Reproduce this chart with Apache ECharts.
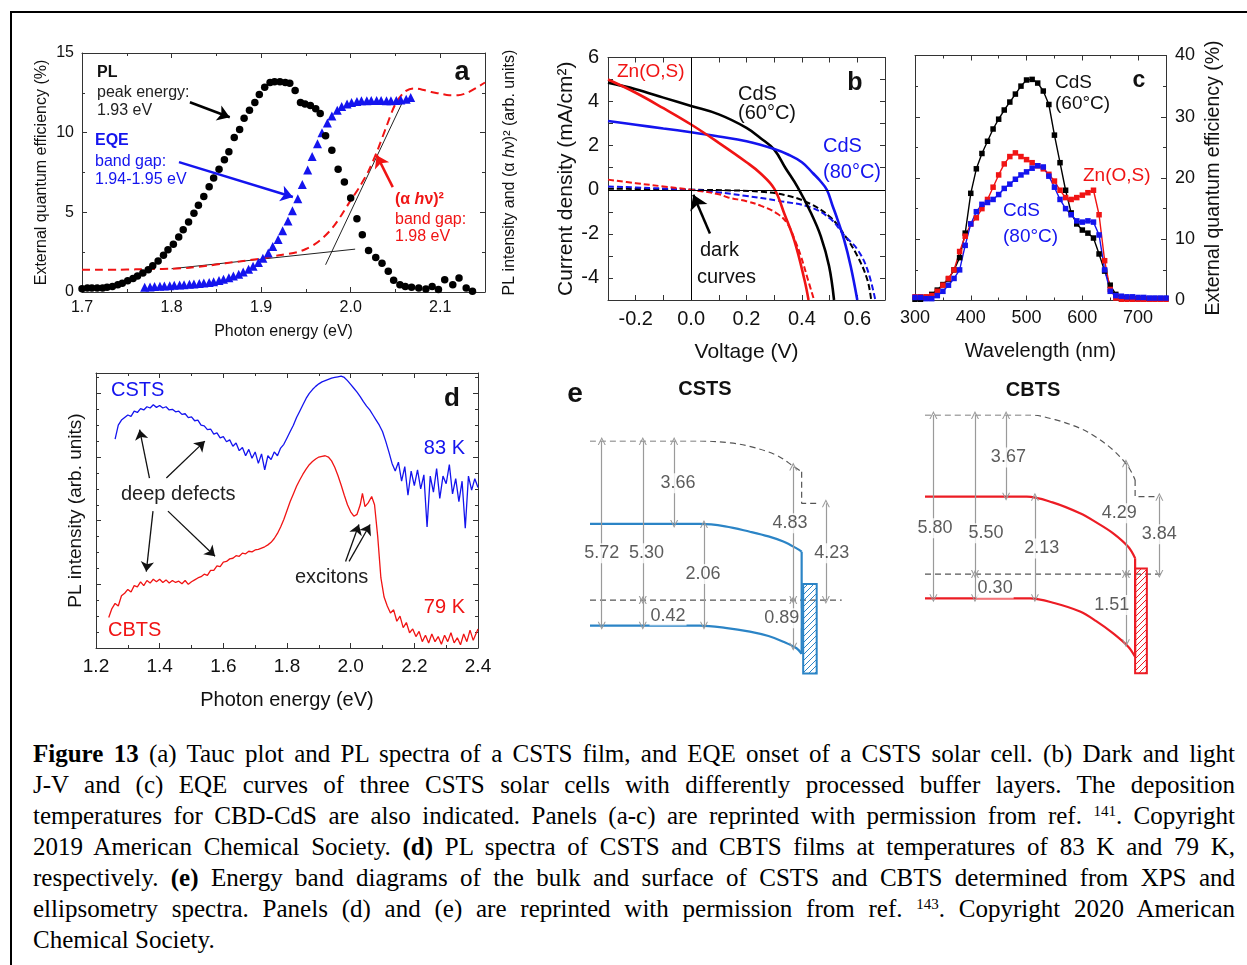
<!DOCTYPE html>
<html>
<head>
<meta charset="utf-8">
<script src="https://cdn.jsdelivr.net/npm/echarts@6/dist/echarts.min.js"></script>
<style>
html, body { margin: 0; padding: 0; background: #fff; overflow: hidden; }
#frame { position: absolute; left: 10px; top: 11px; width: 1400px; height: 1100px; border-left: 2px solid #000; border-top: 2px solid #000; }
#chart { position: absolute; left: 0; top: 0; width: 1247px; height: 725px; }
#caption { position: absolute; left: 33px; top: 738px; width: 1202px; font-family: "Liberation Serif", "Times New Roman", serif; font-size: 25px; line-height: 31px; color: #000; }
#caption div { text-align: justify; text-align-last: justify; white-space: nowrap; }
#caption div.last { text-align-last: left; }
#caption sup { font-size: 15px; line-height: 0; vertical-align: 8px; }
</style>
</head>
<body>
<div id="frame"></div>
<div id="chart"></div>
<div id="caption">
  <div><b>Figure 13</b> (a) Tauc plot and PL spectra of a CSTS film, and EQE onset of a CSTS solar cell. (b) Dark and light</div>
  <div>J-V and (c) EQE curves of three CSTS solar cells with differently processed buffer layers. The deposition</div>
  <div>temperatures for CBD-CdS are also indicated. Panels (a-c) are reprinted with permission from ref. <sup>141</sup>. Copyright</div>
  <div>2019 American Chemical Society. <b>(d)</b> PL spectra of CSTS and CBTS films at temperatures of 83 K and 79 K,</div>
  <div>respectively. <b>(e)</b> Energy band diagrams of the bulk and surface of CSTS and CBTS determined from XPS and</div>
  <div>ellipsometry spectra. Panels (d) and (e) are reprinted with permission from ref. <sup>143</sup>. Copyright 2020 American</div>
  <div class="last">Chemical Society.</div>
</div>
<script>
// ---------------- (a) Tauc / PL / EQE ----------------
const plEnergy = [1.700,1.706,1.711,1.717,1.723,1.728,1.734,1.740,1.745,1.751,1.757,1.762,1.768,1.774,1.779,1.785,1.791,1.796,1.802,1.808,1.813,1.819,1.825,1.830,1.836,1.842,1.847,1.853,1.859,1.864,1.870,1.876,1.881,1.887,1.893,1.898,1.904,1.910,1.915,1.921,1.927,1.932,1.938,1.944,1.949,1.955,1.961,1.966,1.972,1.979,1.986,1.993,2.000,2.007,2.013,2.020,2.028,2.035,2.042,2.048,2.055,2.061,2.068,2.076,2.084,2.091,2.098,2.105,2.114,2.121,2.129,2.136];
const plValue = [0.20,0.25,0.25,0.25,0.25,0.30,0.35,0.45,0.55,0.70,0.85,1.00,1.20,1.40,1.65,1.95,2.30,2.65,3.00,3.45,3.90,4.40,4.95,5.45,6.00,6.60,7.15,7.70,8.30,8.80,9.70,10.20,10.90,11.40,11.90,12.40,12.85,13.15,13.20,13.20,13.15,13.10,12.65,11.90,11.80,11.70,11.50,11.20,9.80,8.90,7.70,6.90,5.90,4.60,3.60,2.60,2.17,1.80,1.30,0.73,0.45,0.35,0.30,0.25,0.19,0.35,0.15,0.77,0.46,0.88,0.25,0.04];
const eqeEnergy = [1.770,1.776,1.781,1.787,1.792,1.798,1.803,1.809,1.814,1.820,1.825,1.831,1.836,1.842,1.847,1.853,1.858,1.864,1.869,1.875,1.880,1.886,1.891,1.897,1.902,1.908,1.913,1.919,1.924,1.930,1.935,1.941,1.946,1.952,1.957,1.963,1.968,1.974,1.979,1.985,1.990,1.996,2.001,2.007,2.012,2.018,2.023,2.029,2.034,2.040,2.045,2.051,2.056,2.062,2.067];
const eqeValue = [0.30,0.32,0.34,0.36,0.38,0.40,0.42,0.44,0.46,0.48,0.50,0.53,0.56,0.60,0.65,0.72,0.80,0.90,1.00,1.12,1.26,1.42,1.62,1.85,2.12,2.45,2.85,3.30,3.85,4.45,5.10,5.85,6.75,7.65,8.50,9.30,10.00,10.60,11.05,11.40,11.65,11.80,11.90,11.95,12.00,12.00,12.02,12.02,12.02,12.00,12.00,12.02,12.05,12.10,12.20];
const taucEnergy = [1.70,1.72,1.74,1.76,1.78,1.80,1.82,1.84,1.86,1.88,1.90,1.92,1.94,1.95,1.96,1.97,1.98,1.99,2.00,2.01,2.02,2.03,2.04,2.05,2.06,2.07,2.08,2.09,2.10,2.11,2.12,2.13,2.14,2.15];
const taucValue = [1.40,1.40,1.40,1.42,1.44,1.46,1.52,1.65,1.80,1.95,2.10,2.30,2.50,2.70,3.00,3.45,4.05,4.85,5.75,6.60,7.60,8.90,10.40,11.80,12.55,12.78,12.70,12.55,12.45,12.35,12.35,12.50,12.80,13.15];
const fitBase = [[1.800, 1.46], [2.005, 2.69]];
const fitEdge = [[1.972, 1.71], [2.058, 11.93]];

// ---------------- (b) J-V ----------------
const cds60Light = [[-0.30,4.86],[-0.20,4.56],[-0.10,4.18],[0.00,3.80],[0.10,3.42],[0.20,2.81],[0.25,2.35],[0.30,1.82],[0.34,1.00],[0.385,0.11],[0.432,-1.03],[0.468,-2.10],[0.498,-3.46],[0.516,-5.00]];
const cds80Light = [[-0.30,3.12],[-0.20,2.95],[-0.10,2.78],[0.00,2.61],[0.10,2.42],[0.20,2.20],[0.30,1.85],[0.35,1.60],[0.40,1.25],[0.44,0.75],[0.465,0.42],[0.49,0.00],[0.51,-0.70],[0.528,-1.33],[0.552,-2.25],[0.576,-3.46],[0.60,-5.00]];
const znosLight = [[-0.30,5.00],[-0.20,4.40],[-0.10,3.70],[0.00,2.96],[0.10,2.13],[0.20,1.25],[0.25,0.75],[0.30,0.05],[0.337,-1.10],[0.373,-2.32],[0.409,-4.07],[0.424,-5.00]];
const znosDark = [[-0.30,0.46],[-0.20,0.30],[-0.10,0.15],[0.00,0.00],[0.10,-0.20],[0.134,-0.35],[0.20,-0.52],[0.253,-0.73],[0.313,-1.10],[0.349,-1.56],[0.375,-2.30],[0.396,-3.00],[0.42,-4.00],[0.444,-5.00]];
const cds60Dark = [[-0.30,0.05],[-0.10,0.02],[0.00,0.00],[0.15,-0.03],[0.253,-0.09],[0.349,-0.27],[0.432,-0.65],[0.504,-1.26],[0.552,-2.02],[0.60,-3.00],[0.636,-4.07],[0.65,-5.00]];
const cds80Dark = [[-0.30,0.15],[-0.15,0.08],[0.00,0.00],[0.10,-0.12],[0.194,-0.27],[0.313,-0.50],[0.432,-0.80],[0.504,-1.33],[0.552,-2.05],[0.60,-2.70],[0.636,-3.60],[0.665,-5.00]];

// ---------------- (c) EQE ----------------
const wavelength = [300,310,320,330,340,350,360,370,380,390,400,410,420,430,440,450,460,470,480,490,500,510,520,530,540,550,560,570,580,590,600,610,620,630,640,650,660,670,680,690,700,710,720,730,740,750];
const eqeCdS60 = [0.2,0.2,0.5,1.0,1.7,2.6,3.5,5.0,7.0,11.0,17.5,21.5,24.0,26.0,28.0,29.6,31.1,32.4,33.7,35.0,36.0,36.1,35.5,34.2,32.0,27.0,22.5,18.0,14.3,12.5,11.5,11.0,10.2,7.6,4.8,2.5,1.0,0.5,0.4,0.3,0.3,0.3,0.3,0.3,0.3,0.3];
const eqeZnOS = [0.6,0.6,0.6,0.8,1.5,2.5,3.6,5.0,8.0,10.5,12.5,13.5,15.0,16.5,18.5,20.5,22.3,23.5,24.1,23.5,23.0,22.5,22.0,21.5,20.6,19.5,18.0,16.8,16.5,16.8,17.2,17.6,18.0,14.0,6.5,1.8,0.4,0.2,0.2,0.2,0.2,0.2,0.2,0.2,0.2,0.2];
const eqeCdS80 = [0.5,0.5,0.3,0.3,0.8,1.5,2.5,3.6,5.0,9.0,12.5,14.5,15.7,16.0,16.5,17.3,18.3,19.0,19.8,20.5,21.0,21.6,22.0,21.8,20.3,18.5,16.5,15.0,14.0,13.0,12.8,13.0,12.8,10.7,5.0,1.5,0.8,0.7,0.6,0.6,0.5,0.5,0.4,0.4,0.4,0.4];

// ---------------- (d) low temperature PL (arb. units) ----------------
const cstsPL = [[1.26,3.28],[1.27,3.50],[1.28,3.58],[1.29,3.62],[1.30,3.66],[1.31,3.64],[1.32,3.72],[1.33,3.70],[1.34,3.76],[1.35,3.74],[1.36,3.79],[1.37,3.77],[1.38,3.82],[1.39,3.78],[1.40,3.81],[1.41,3.77],[1.42,3.79],[1.43,3.74],[1.44,3.75],[1.45,3.71],[1.46,3.72],[1.47,3.67],[1.48,3.68],[1.49,3.62],[1.50,3.63],[1.51,3.57],[1.52,3.58],[1.53,3.50],[1.54,3.49],[1.55,3.43],[1.56,3.44],[1.57,3.36],[1.58,3.38],[1.59,3.30],[1.60,3.32],[1.61,3.24],[1.62,3.27],[1.63,3.17],[1.64,3.22],[1.65,3.10],[1.66,3.15],[1.67,3.02],[1.68,3.12],[1.69,2.98],[1.70,3.08],[1.71,2.90],[1.72,3.05],[1.73,2.80],[1.74,3.02],[1.75,2.96],[1.76,3.08],[1.77,3.02],[1.78,3.14],[1.79,3.20],[1.80,3.30],[1.81,3.40],[1.82,3.50],[1.83,3.62],[1.84,3.72],[1.85,3.82],[1.86,3.92],[1.87,4.00],[1.88,4.06],[1.89,4.11],[1.90,4.15],[1.91,4.18],[1.92,4.20],[1.93,4.22],[1.94,4.24],[1.95,4.25],[1.96,4.26],[1.97,4.27],[1.98,4.25],[1.99,4.20],[2.00,4.14],[2.01,4.08],[2.02,4.02],[2.03,3.95],[2.04,3.87],[2.05,3.80],[2.06,3.74],[2.07,3.66],[2.08,3.58],[2.09,3.50],[2.10,3.40],[2.11,3.25],[2.12,3.08],[2.13,2.90],[2.14,2.78],[2.15,2.92],[2.16,2.62],[2.17,2.85],[2.18,2.40],[2.19,2.78],[2.20,2.55],[2.21,2.80],[2.22,2.50],[2.23,2.72],[2.24,1.90],[2.25,2.70],[2.26,2.45],[2.27,2.82],[2.28,2.35],[2.29,2.70],[2.30,2.58],[2.31,2.88],[2.32,2.42],[2.33,2.66],[2.34,2.30],[2.35,2.62],[2.36,1.88],[2.37,2.70],[2.38,2.48],[2.39,2.66],[2.40,2.52]];
const cbtsPL = [[1.24,0.48],[1.25,0.62],[1.26,0.70],[1.27,0.66],[1.28,0.82],[1.29,0.86],[1.30,0.92],[1.31,0.88],[1.32,0.98],[1.33,0.96],[1.34,1.04],[1.35,0.98],[1.36,1.06],[1.37,1.02],[1.38,1.08],[1.39,1.04],[1.40,1.08],[1.41,1.03],[1.42,1.07],[1.43,1.02],[1.44,1.06],[1.45,1.03],[1.46,1.05],[1.47,1.01],[1.48,1.06],[1.49,1.00],[1.50,1.04],[1.51,1.07],[1.52,1.10],[1.53,1.12],[1.54,1.16],[1.55,1.14],[1.56,1.22],[1.57,1.22],[1.58,1.29],[1.59,1.28],[1.60,1.35],[1.61,1.36],[1.62,1.40],[1.63,1.41],[1.64,1.45],[1.65,1.44],[1.66,1.49],[1.67,1.48],[1.68,1.52],[1.69,1.51],[1.70,1.54],[1.71,1.55],[1.72,1.57],[1.73,1.59],[1.74,1.62],[1.75,1.66],[1.76,1.72],[1.77,1.80],[1.78,1.90],[1.79,2.02],[1.80,2.16],[1.81,2.30],[1.82,2.42],[1.83,2.54],[1.84,2.64],[1.85,2.73],[1.86,2.81],[1.87,2.88],[1.88,2.93],[1.89,2.97],[1.90,3.00],[1.91,3.01],[1.92,3.02],[1.93,3.00],[1.94,2.94],[1.95,2.84],[1.96,2.71],[1.97,2.56],[1.98,2.40],[1.99,2.25],[2.00,2.14],[2.01,2.07],[2.02,2.10],[2.03,2.25],[2.037,2.43],[2.045,2.22],[2.055,2.28],[2.066,2.38],[2.075,2.25],[2.085,1.75],[2.095,1.10],[2.105,0.80],[2.115,0.66],[2.125,0.55],[2.135,0.60],[2.145,0.42],[2.155,0.50],[2.165,0.32],[2.175,0.40],[2.185,0.24],[2.195,0.30],[2.205,0.18],[2.215,0.26],[2.225,0.10],[2.235,0.20],[2.245,0.08],[2.255,0.22],[2.265,0.10],[2.275,0.18],[2.285,0.06],[2.295,0.20],[2.305,0.10],[2.315,0.24],[2.325,0.08],[2.335,0.16],[2.345,0.05],[2.355,0.22],[2.365,0.10],[2.375,0.28],[2.385,0.12],[2.40,0.30]];

// ---------------- (e) band diagrams, schematic units (x: 0-100 depth, y: 0 = vacuum level) ----------------
const cstsVacuum = [[0,0],[43,0],[55,0.8],[63,2.4],[73,6],[80,10.9],[83,13.1]];
const cstsVacuumStep = [[83,13.1],[83,26.5],[90.2,26.5]];
const cstsCB = [[0,35.3],[43,35.3],[53,36.3],[62.7,38.6],[70,40.6],[75.8,42.8],[81,45.7],[83,47.1]];
const cstsVB = [[0,78.6],[43,78.6],[53,79.5],[62.7,81.1],[70,83],[75.8,85.4],[81,88.2],[83,90.6]];
const cstsSurface = [[83,47.1],[83,90.6]];
const cstsFermi = [[0,67.7],[98.7,67.7]];
const cstsLayer = [[83.6,60.9,88.9,98.9]];
const cstsGaps = [[4.6,0,78.6],[20.7,0,67.7],[33,0,35.3],[44.7,35.3,78.6],[20.7,67.7,78.6],[79.7,10.9,67.7],[92.5,26.5,67.7],[79.7,67.7,87.5]];
const cstsGapLabels = [['5.72',4.6,47.8],['5.30',22.2,47.8],['3.66',34.5,18],['2.06',44.3,56.6],['0.42',30.6,74.3],['4.83',78.4,35],['4.23',94.8,47.8],['0.89',75.2,75.4]];

const cbtsVacuum = [[0,0],[41.2,0],[51,1.8],[60.8,5.1],[67,8.5],[73.8,13.5],[79.7,19.9],[82.4,25]];
const cbtsVacuumStep = [[82.4,25],[82.4,31.4],[90.9,31.4]];
const cbtsCB = [[0,31.4],[39.9,31.4],[50,33.6],[60.8,37.8],[67,41.2],[73.8,45.5],[79.7,50.7],[82.4,55.1]];
const cbtsVB = [[0,70.5],[41.2,70.5],[51,72.4],[60.8,75.6],[67,79.2],[73.8,84],[79.7,89.1],[82.4,93]];
const cbtsSurface = [[82.4,55.1],[82.4,93]];
const cbtsFermi = [[0,61.2],[93.5,61.2]];
const cbtsLayer = [[82.4,59,87,99.3]];
const cbtsGaps = [[3.3,0,70.5],[19.6,0,61.2],[31.8,0,31.4],[43.1,31.4,70.5],[19.6,61.2,70.5],[78.8,18.6,61.2],[91.9,31.4,61.2],[78.8,61.2,87.8]];
const cbtsGapLabels = [['5.80',3.9,43.6],['5.50',23.9,45.5],['3.67',32.7,16.3],['2.13',45.8,51.3],['0.30',27.5,66.7],['4.29',76.2,37.8],['3.84',91.9,45.9],['1.51',73.2,73.1]];

// annotation arrows, in data coordinates [tail, head]
const arrowsA = [[[1.8205,11.91],[1.865,10.97]], [[1.8083,8.15],[1.9355,5.96]], [[2.047,6.58],[2.029,8.59]]];
const arrowB = [[0.068,-1.98],[0.008,-0.23]];
const arrowsD = [[[1.368,2.67],[1.337,3.43]], [[1.421,2.67],[1.542,3.25]], [[1.379,2.15],[1.358,1.20]], [[1.426,2.15],[1.574,1.44]], [[1.984,1.36],[2.026,1.94]], [[1.995,1.36],[2.061,1.94]]];

const FONT = '"Liberation Sans", Arial, Helvetica, sans-serif';
const INK = '#111';
const BLUE = '#1414ee';
const RED = '#f01414';
const EBLUE = '#2b84c6';
const ERED = '#ec1c24';
const GREY = '#9a9a9a';

function zip(xs, ys) { return xs.map((x, i) => [x, ys[i]]); }
function stepFmt(step, dec) {
  return function (v) {
    const k = v / step;
    if (Math.abs(k - Math.round(k)) > 1e-6) return '';
    return (Math.round(k) * step).toFixed(dec);
  };
}

let grids = [], xAxes = [], yAxes = [], series = [], graphics = [];

function axisBase(a) {
  return {
    type: 'value', min: a.min, max: a.max, interval: a.interval,
    axisLine: { show: true, onZero: false, lineStyle: { color: '#333', width: 1 } },
    axisTick: { show: true, inside: true, length: 5, lineStyle: { color: '#333', width: 1 } },
    minorTick: { show: !!a.minor, splitNumber: a.minor || 2, length: 3, lineStyle: { color: '#333', width: 1 } },
    splitLine: { show: false }, minorSplitLine: { show: false }
  };
}

// boxed panel: labelled bottom/left (or right) axes plus mirrored tick-only axes
function frame(rect, x, y) {
  const gi = grids.length;
  grids.push(Object.assign({ show: false, outerBoundsMode: 'none', containLabel: false }, rect));
  const ax = { x: xAxes.length, y: yAxes.length };
  ['bottom', 'top'].forEach((pos, k) => {
    xAxes.push(Object.assign(axisBase(x), {
      gridIndex: gi, position: pos,
      axisLabel: { show: k === 0, formatter: x.fmt, fontSize: x.fs, color: INK, fontFamily: FONT, margin: x.margin },
      name: k === 0 ? x.name : '', nameLocation: 'middle', nameGap: x.nameGap,
      nameTextStyle: { fontSize: x.nfs, color: INK, fontFamily: FONT }
    }));
  });
  ['left', 'right'].forEach(pos => {
    const nm = pos === 'left' ? y.name : y.name2;
    yAxes.push(Object.assign(axisBase(y), {
      gridIndex: gi, position: pos,
      axisLabel: { show: y.labelSide === pos, formatter: y.fmt, fontSize: y.fs, color: INK, fontFamily: FONT, margin: y.margin },
      name: nm || '', nameLocation: 'middle', nameRotate: 90,
      nameGap: pos === 'left' ? y.nameGap : y.nameGap2,
      nameTextStyle: Object.assign({ fontSize: y.nfs, color: INK, fontFamily: FONT }, y.nameStyle || {})
    }));
  });
  return ax;
}

function plainGrid(rect) {
  const gi = grids.length;
  grids.push(Object.assign({ show: false, outerBoundsMode: 'none', containLabel: false }, rect));
  xAxes.push({ gridIndex: gi, type: 'value', min: 0, max: 100, show: false });
  yAxes.push({ gridIndex: gi, type: 'value', min: 0, max: 100, inverse: true, show: false });
  return { x: xAxes.length - 1, y: yAxes.length - 1 };
}

function addLine(ax, data, color, width, extra) {
  const s = Object.assign({
    type: 'line', xAxisIndex: ax.x, yAxisIndex: ax.y, data: data,
    showSymbol: false, symbol: 'none', silent: true, z: 3,
    lineStyle: { color: color, width: width }, itemStyle: { color: color }
  }, extra || {});
  series.push(s);
  return s;
}

function addScatter(ax, data, color, symbol, size) {
  series.push({ type: 'scatter', xAxisIndex: ax.x, yAxisIndex: ax.y, data: data, symbol: symbol, symbolSize: size, silent: true, z: 4, itemStyle: { color: color, opacity: 1 } });
}

function arrowMarks(list, color, width, size) {
  return {
    silent: true, symbol: ['none', 'arrow'], symbolSize: size, label: { show: false },
    lineStyle: { color: color, width: width, type: 'solid' }, emphasis: { disabled: true },
    data: list.map(a => [{ coord: a[0] }, { coord: a[1] }])
  };
}

function label(text, x, y, size, color, opt) {
  opt = opt || {};
  graphics.push({
    type: 'text', x: x, y: y, silent: true, z: 100,
    style: { text: text, fill: color, font: (opt.bold ? 'bold ' : '') + size + 'px ' + FONT, align: opt.align || 'left', verticalAlign: 'middle', rich: opt.rich }
  });
}

function hatch(color) {
  const c = document.createElement('canvas');
  c.width = 6; c.height = 6;
  const g = c.getContext('2d');
  g.strokeStyle = color; g.lineWidth = 1;
  g.beginPath();
  g.moveTo(0, 6); g.lineTo(6, 0);
  g.moveTo(-1, 1); g.lineTo(1, -1);
  g.moveTo(5, 7); g.lineTo(7, 5);
  g.stroke();
  return { type: 'pattern', image: c, repeat: 'repeat' };
}

function addLayer(ax, rects, color) {
  const fill = hatch(color);
  series.push({
    type: 'custom', xAxisIndex: ax.x, yAxisIndex: ax.y, data: rects, silent: true, z: 5,
    renderItem: function (params, api) {
      const p0 = api.coord([api.value(0), api.value(1)]);
      const p1 = api.coord([api.value(2), api.value(3)]);
      return {
        type: 'rect',
        shape: { x: Math.min(p0[0], p1[0]), y: Math.min(p0[1], p1[1]), width: Math.abs(p1[0] - p0[0]), height: Math.abs(p1[1] - p0[1]) },
        style: { fill: fill, stroke: color, lineWidth: 2 }
      };
    }
  });
}

// ===== panel a =====
const A = frame({ left: 82, top: 53, width: 403, height: 239 },
  { min: 1.7, max: 2.15, interval: 0.1, minor: 2, fmt: stepFmt(0.1, 1), fs: 16, margin: 8, name: 'Photon energy (eV)', nameGap: 32, nfs: 16 },
  { min: 0, max: 15, interval: 5, minor: 2, fmt: stepFmt(5, 0), fs: 16, margin: 8, labelSide: 'left',
    name: 'External quantum efficiency (%)', nameGap: 32, nfs: 16,
    name2: 'PL intensity and (α {i|h}ν)² (arb. units)', nameGap2: 17,
    nameStyle: { rich: { i: { fontStyle: 'italic', fontSize: 16, fontFamily: FONT, color: INK } } } });
const fitA = addLine(A, fitBase, '#222', 1);
addLine(A, fitEdge, '#222', 1).markLine = arrowMarks(arrowsA.slice(0, 1), '#000', 2.5, 12);
addLine(A, zip(taucEnergy, taucValue), RED, 2, { smooth: 0.3, lineStyle: { color: RED, width: 2, type: [8, 5] } });
addScatter(A, zip(eqeEnergy, eqeValue), BLUE, 'triangle', 9);
addScatter(A, zip(plEnergy, plValue), '#000', 'circle', 7.5);
fitA.markLine = {
  silent: true, symbol: ['none', 'arrow'], symbolSize: 12, label: { show: false },
  lineStyle: { width: 2.5, type: 'solid' },
  data: [
    [{ coord: arrowsA[1][0], lineStyle: { color: BLUE } }, { coord: arrowsA[1][1] }],
    [{ coord: arrowsA[2][0], lineStyle: { color: RED } }, { coord: arrowsA[2][1] }]
  ]
};
label('PL', 97, 73, 16, INK, { bold: true });
label('peak energy:', 97, 93, 16, '#222');
label('1.93 eV', 97, 111, 16, '#222');
label('EQE', 95, 141, 16, BLUE, { bold: true });
label('band gap:', 95, 162, 16, BLUE);
label('1.94-1.95 eV', 95, 180, 16, BLUE);
label('(α {i|h}ν)²', 395, 200, 16, RED, { bold: true, rich: { i: { font: 'italic bold 16px ' + FONT, fill: RED } } });
label('band gap:', 395, 220, 16, RED);
label('1.98 eV', 395, 237, 16, RED);
label('a', 462, 73, 27, INK, { bold: true, align: 'center' });

// ===== panel b =====
const B = frame({ left: 608, top: 57.5, width: 277, height: 242.5 },
  { min: -0.3, max: 0.7, interval: 0.1, fmt: stepFmt(0.2, 1), fs: 20, margin: 9, name: 'Voltage (V)', nameGap: 42, nfs: 21 },
  { min: -5, max: 6, interval: 1, fmt: stepFmt(2, 0), fs: 20, margin: 9, labelSide: 'left', name: 'Current density (mA/cm²)', nameGap: 31, nfs: 21 });
const darkStyle = c => ({ smooth: 0.4, lineStyle: { color: c, width: 2, type: [6, 3] } });
const axesB = addLine(B, cds60Dark, '#000', 2, darkStyle('#000'));
addLine(B, cds80Dark, BLUE, 2, darkStyle(BLUE));
addLine(B, znosDark, RED, 2, darkStyle(RED));
addLine(B, cds60Light, '#000', 2.6, { smooth: 0.4 });
addLine(B, cds80Light, BLUE, 2.6, { smooth: 0.4 });
addLine(B, znosLight, RED, 2.6, { smooth: 0.4 }).markLine = arrowMarks([arrowB], '#000', 2.5, 14);
axesB.markLine = { silent: true, symbol: 'none', label: { show: false }, lineStyle: { color: '#000', width: 1, type: 'solid' }, data: [{ xAxis: 0 }, { yAxis: 0 }] };
label('Zn(O,S)', 617, 72, 19, RED);
label('CdS', 738, 94, 20, INK);
label('(60°C)', 738, 113, 20, INK);
label('b', 855, 83, 25, INK, { bold: true, align: 'center' });
label('CdS', 823, 146, 20, BLUE);
label('(80°C)', 823, 172, 20, BLUE);
label('dark', 700, 250, 20, INK);
label('curves', 697, 277, 20, INK);

// ===== panel c =====
const C = frame({ left: 915, top: 55.5, width: 251, height: 245 },
  { min: 300, max: 750, interval: 100, minor: 2, fmt: stepFmt(100, 0), fs: 18, margin: 9, name: 'Wavelength (nm)', nameGap: 41, nfs: 20 },
  { min: 0, max: 40, interval: 10, minor: 2, fmt: stepFmt(10, 0), fs: 18, margin: 9, labelSide: 'right', name2: 'External quantum efficiency (%)', nameGap2: 38, nfs: 19.5 });
const eqeLine = c => ({ showSymbol: true, symbol: 'rect', symbolSize: 5.5, lineStyle: { color: c, width: 1.4 } });
addLine(C, zip(wavelength, eqeCdS60), '#000', 1.4, eqeLine('#000'));
addLine(C, zip(wavelength, eqeZnOS), RED, 1.4, eqeLine(RED));
addLine(C, zip(wavelength, eqeCdS80), BLUE, 1.4, eqeLine(BLUE));
label('CdS', 1055, 83, 19, INK);
label('(60°C)', 1055, 104, 19, INK);
label('c', 1139, 81, 23, INK, { bold: true, align: 'center' });
label('Zn(O,S)', 1083, 176, 19, RED);
label('CdS', 1003, 211, 19, BLUE);
label('(80°C)', 1003, 237, 19, BLUE);

// ===== panel d =====
const D = frame({ left: 96, top: 373, width: 382, height: 275 },
  { min: 1.2, max: 2.4, interval: 0.2, minor: 2, fmt: stepFmt(0.2, 1), fs: 19, margin: 9, name: 'Photon energy (eV)', nameGap: 42, nfs: 20 },
  { min: 0, max: 4.32, interval: 1, minor: 4, labelSide: 'none', name: 'PL intensity (arb. units)', nameGap: 11, nfs: 19 });
addLine(D, cstsPL, BLUE, 1.3);
addLine(D, cbtsPL, RED, 1.3).markLine = arrowMarks(arrowsD, '#111', 1.3, 10);
label('CSTS', 111, 390, 20, BLUE);
label('d', 452, 399, 26, INK, { bold: true, align: 'center' });
label('83 K', 465, 448, 20, BLUE, { align: 'right' });
label('deep defects', 121, 494, 20, '#222');
label('excitons', 295, 577, 20, '#222');
label('79 K', 465, 607, 20, RED, { align: 'right' });
label('CBTS', 108, 630, 20, RED);

// ===== panel e =====
const chevron = 'path://M5,0L10,9L8.6,9L5,2.6L1.4,9L0,9Z';
function bandDiagram(ax, d, color) {
  const dash = { lineStyle: { color: '#555', width: 1.2, type: [6, 4] } };
  addLine(ax, d.vac, '#555', 1.2, Object.assign({ smooth: 0.35 }, dash));
  addLine(ax, d.step, '#555', 1.2, dash);
  const fermi = addLine(ax, d.fermi, '#555', 1.2, dash);
  fermi.markLine = {
    silent: true, symbol: [chevron, chevron], symbolSize: 8, label: { show: false },
    lineStyle: { color: GREY, width: 1.2, type: 'solid' },
    data: d.gaps.map(g => [{ coord: [g[0], g[1]] }, { coord: [g[0], g[2]] }])
  };
  addLine(ax, d.cb, color, 2.2, { smooth: 0.35 });
  addLine(ax, d.vb, color, 2.2, { smooth: 0.35 });
  addLine(ax, d.surf, color, 2.2);
  addLayer(ax, d.layer, color);
  series.push({
    type: 'scatter', xAxisIndex: ax.x, yAxisIndex: ax.y, symbolSize: 1, silent: true, z: 10,
    itemStyle: { color: 'rgba(0,0,0,0)' },
    label: { show: true, position: 'inside', formatter: '{b}', color: '#333', fontSize: 18, fontFamily: FONT, backgroundColor: '#fff', padding: [1, 1] },
    data: d.labels.map(l => ({ name: l[0], value: [l[1], l[2]] }))
  });
}
bandDiagram(plainGrid({ left: 590, top: 441, width: 255, height: 235 }),
  { vac: cstsVacuum, step: cstsVacuumStep, fermi: cstsFermi, cb: cstsCB, vb: cstsVB, surf: cstsSurface, layer: cstsLayer, gaps: cstsGaps, labels: cstsGapLabels }, EBLUE);
bandDiagram(plainGrid({ left: 925, top: 415, width: 255, height: 260 }),
  { vac: cbtsVacuum, step: cbtsVacuumStep, fermi: cbtsFermi, cb: cbtsCB, vb: cbtsVB, surf: cbtsSurface, layer: cbtsLayer, gaps: cbtsGaps, labels: cbtsGapLabels }, ERED);
label('e', 575, 394, 28, INK, { bold: true, align: 'center' });
label('CSTS', 705, 389, 20, INK, { bold: true, align: 'center' });
label('CBTS', 1033, 390, 20, INK, { bold: true, align: 'center' });

const chart = echarts.init(document.getElementById('chart'), null, { renderer: 'canvas' });
chart.setOption({
  animation: false,
  backgroundColor: 'transparent',
  textStyle: { fontFamily: FONT },
  grid: grids, xAxis: xAxes, yAxis: yAxes, series: series,
  graphic: { elements: graphics }
});

// keep each caption line inside the text column
document.querySelectorAll('#caption div').forEach(function (line) {
  let size = 25;
  while (line.scrollWidth > line.clientWidth + 1 && size > 18) {
    size -= 0.25;
    line.style.fontSize = size + 'px';
  }
});
</script>
</body>
</html>
